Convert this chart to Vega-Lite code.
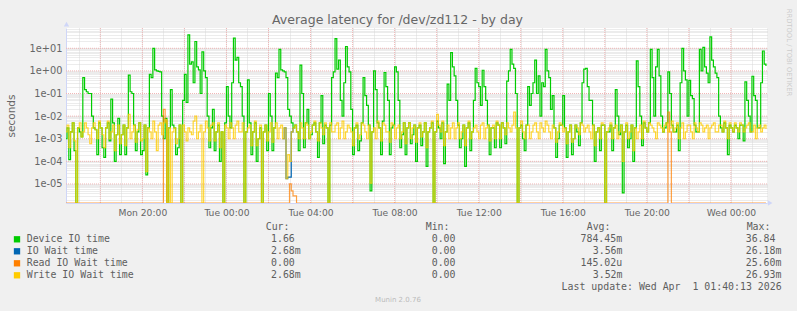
{
  "$schema": "https://vega.github.io/schema/vega-lite/v6.json",
  "width": 701,
  "height": 175,
  "autosize": "none",
  "padding": {"left": 66, "top": 28, "right": 30, "bottom": 108},
  "background": "#f0f0f0",
  "config": {"font": "DejaVu Sans", "view": {"stroke": null, "fill": "#ffffff"}},
  "datasets": {
    "series": [
{"t":"2026-03-30T16:20","w":0.002,"d":0.001,"r":1e-9},{"t":"2026-03-30T16:25","w":0.004,"d":0.003},
{"t":"2026-03-30T16:30","w":0.0004,"d":0.00012},{"t":"2026-03-30T16:35","w":0.002,"d":0.002},
{"t":"2026-03-30T16:40","w":0.005,"d":0.005},{"t":"2026-03-30T16:45","w":0.0008,"d":0.0003},
{"t":"2026-03-30T16:50","w":1e-9,"d":1e-9},{"t":"2026-03-30T16:55","w":0.003,"d":0.003},
{"t":"2026-03-30T17:00","w":0.005,"d":0.002},{"t":"2026-03-30T17:05","w":0.0012,"d":0.0012},
{"t":"2026-03-30T17:10","w":0.002,"d":0.5},{"t":"2026-03-30T17:15","w":0.005,"d":0.15},
{"t":"2026-03-30T17:20","w":0.003,"d":0.12},{"t":"2026-03-30T17:25","w":0.0015,"d":0.1},
{"t":"2026-03-30T17:30","w":0.0006,"d":0.1},{"t":"2026-03-30T17:35","w":0.003,"d":0.01},
{"t":"2026-03-30T17:40","w":0.005,"d":0.003},{"t":"2026-03-30T17:45","w":0.0025,"d":0.0025},
{"t":"2026-03-30T17:50","w":0.001,"d":0.0002},{"t":"2026-03-30T17:55","w":0.006,"d":0.005},
{"t":"2026-03-30T18:00","w":0.003,"d":0.003},{"t":"2026-03-30T18:05","w":0.0015,"d":0.0004},
{"t":"2026-03-30T18:10","w":0.0004,"d":0.00015},{"t":"2026-03-30T18:15","w":0.003,"d":0.003},
{"t":"2026-03-30T18:20","w":0.006,"d":0.005},{"t":"2026-03-30T18:25","w":0.001,"d":0.0008},
{"t":"2026-03-30T18:30","w":0.002,"d":0.056},{"t":"2026-03-30T18:35","w":0.004,"d":0.005},
{"t":"2026-03-30T18:40","w":0.0003,"d":0.0001},{"t":"2026-03-30T18:45","w":0.0015,"d":0.0015},
{"t":"2026-03-30T18:50","w":0.004,"d":0.008},{"t":"2026-03-30T18:55","w":0.0006,"d":0.0002},
{"t":"2026-03-30T19:00","w":0.0015,"d":0.0015},{"t":"2026-03-30T19:05","w":0.004,"d":0.004},
{"t":"2026-03-30T19:10","w":0.0005,"d":0.0002},{"t":"2026-03-30T19:15","w":0.003,"d":0.003},
{"t":"2026-03-30T19:20","w":0.012,"d":0.65},{"t":"2026-03-30T19:25","w":0.001,"d":0.12},
{"t":"2026-03-30T19:30","w":0.002,"d":0.1},{"t":"2026-03-30T19:35","w":0.004,"d":0.004},
{"t":"2026-03-30T19:40","w":0.0007,"d":0.0003},{"t":"2026-03-30T19:45","w":0.0025,"d":0.002},
{"t":"2026-03-30T19:50","w":0.005,"d":0.005},{"t":"2026-03-30T19:55","w":0.0008,"d":0.0002},
{"t":"2026-03-30T20:00","w":0.001,"d":0.0003},{"t":"2026-03-30T20:05","w":0.004,"d":0.004},
{"t":"2026-03-30T20:10","w":0.000035,"d":0.000025},{"t":"2026-03-30T20:15","w":0.003,"d":0.003},
{"t":"2026-03-30T20:20","w":0.002,"d":0.7},{"t":"2026-03-30T20:25","w":0.001,"d":0.5},
{"t":"2026-03-30T20:30","w":0.006,"d":10},{"t":"2026-03-30T20:35","w":0.002,"d":1.1},
{"t":"2026-03-30T20:40","w":0.0003,"d":1},{"t":"2026-03-30T20:45","w":0.004,"d":0.95},
{"t":"2026-03-30T20:50","w":0.005,"d":0.9,"r":1e-9},{"t":"2026-03-30T20:55","w":0.0015,"d":0.01},
{"t":"2026-03-30T21:00","w":0.005,"d":0.001,"r":0.02},{"t":"2026-03-30T21:05","w":0.007,"d":0.008,"r":0.006},
{"t":"2026-03-30T21:10","w":1e-9,"d":1e-9,"r":1e-9},{"t":"2026-03-30T21:15","w":0.003,"d":0.003},
{"t":"2026-03-30T21:20","w":1e-9,"d":0.15},{"t":"2026-03-30T21:25","w":0.002,"d":0.004},
{"t":"2026-03-30T21:30","w":0.003,"d":0.003},{"t":"2026-03-30T21:35","w":0.0006,"d":0.0002},
{"t":"2026-03-30T21:40","w":0.001,"d":0.0004},{"t":"2026-03-30T21:45","w":0.004,"d":0.004},
{"t":"2026-03-30T21:50","w":1e-9,"d":1e-9},{"t":"2026-03-30T21:55","w":0.004,"d":0.05},
{"t":"2026-03-30T22:00","w":0.002,"d":0.7},{"t":"2026-03-30T22:05","w":0.0008,"d":0.04},
{"t":"2026-03-30T22:10","w":0.003,"d":39},{"t":"2026-03-30T22:15","w":0.002,"d":2},
{"t":"2026-03-30T22:20","w":0.0015,"d":2.5},{"t":"2026-03-30T22:25","w":0.006,"d":0.3},
{"t":"2026-03-30T22:30","w":0.01,"d":20},{"t":"2026-03-30T22:35","w":0.001,"d":1.5},
{"t":"2026-03-30T22:40","w":0.002,"d":1.1},{"t":"2026-03-30T22:45","w":0.004,"d":0.1},
{"t":"2026-03-30T22:50","w":1e-9,"d":7},{"t":"2026-03-30T22:55","w":0.002,"d":1},
{"t":"2026-03-30T23:00","w":0.006,"d":0.5},{"t":"2026-03-30T23:05","w":0.003,"d":0.01},
{"t":"2026-03-30T23:10","w":0.0008,"d":0.0004},{"t":"2026-03-30T23:15","w":0.004,"d":0.003},
{"t":"2026-03-30T23:20","w":0.005,"d":0.02},{"t":"2026-03-30T23:25","w":0.0008,"d":0.0003},
{"t":"2026-03-30T23:30","w":0.002,"d":0.002},{"t":"2026-03-30T23:35","w":0.005,"d":0.004},
{"t":"2026-03-30T23:40","w":0.0004,"d":0.0001},{"t":"2026-03-30T23:45","w":0.002,"d":0.002},
{"t":"2026-03-30T23:50","w":1e-9,"d":1e-9},{"t":"2026-03-30T23:55","w":0.004,"d":0.005},
{"t":"2026-03-31T00:00","w":0.003,"d":0.2},{"t":"2026-03-31T00:05","w":0.001,"d":0.01},
{"t":"2026-03-31T00:10","w":0.005,"d":0.003},{"t":"2026-03-31T00:15","w":0.003,"d":0.3},
{"t":"2026-03-31T00:20","w":0.001,"d":28},{"t":"2026-03-31T00:25","w":0.004,"d":3},
{"t":"2026-03-31T00:30","w":0.006,"d":4},{"t":"2026-03-31T00:35","w":0.002,"d":0.3},
{"t":"2026-03-31T00:40","w":0.002,"d":0.2},{"t":"2026-03-31T00:45","w":0.005,"d":0.01},
{"t":"2026-03-31T00:50","w":1e-9,"d":1e-9},{"t":"2026-03-31T00:55","w":0.002,"d":0.002},
{"t":"2026-03-31T01:00","w":0.003,"d":0.4},{"t":"2026-03-31T01:05","w":0.004,"d":0.005},
{"t":"2026-03-31T01:10","w":0.0005,"d":0.0002},{"t":"2026-03-31T01:15","w":0.002,"d":0.002},
{"t":"2026-03-31T01:20","w":0.006,"d":0.005},{"t":"2026-03-31T01:25","w":0.0005,"d":0.0001},
{"t":"2026-03-31T01:30","w":0.001,"d":0.001},{"t":"2026-03-31T01:35","w":0.004,"d":0.003},
{"t":"2026-03-31T01:40","w":1e-9,"d":1e-9},{"t":"2026-03-31T01:45","w":0.002,"d":0.002},
{"t":"2026-03-31T01:50","w":0.004,"d":0.004},{"t":"2026-03-31T01:55","w":0.0008,"d":0.0003},
{"t":"2026-03-31T02:00","w":0.002,"d":0.1},{"t":"2026-03-31T02:05","w":0.005,"d":0.01},
{"t":"2026-03-31T02:10","w":0.0007,"d":0.0003},{"t":"2026-03-31T02:15","w":0.003,"d":0.003},
{"t":"2026-03-31T02:20","w":0.005,"d":0.8},{"t":"2026-03-31T02:25","w":0.001,"d":0.5},
{"t":"2026-03-31T02:30","w":0.003,"d":9},{"t":"2026-03-31T02:35","w":0.004,"d":1.1},
{"t":"2026-03-31T02:40","w":0.001,"d":1,"io":0.001},{"t":"2026-03-31T02:45","w":0.003,"d":0.9,"io":0.003},
{"t":"2026-03-31T02:50","w":0.000017,"d":0.5,"io":0.000017,"r":1e-9},{"t":"2026-03-31T02:55","w":0.0002,"d":0.02,"io":0.00002},
{"t":"2026-03-31T03:00","w":0.0001,"d":0.01,"io":0.00002,"r":0.00001},{"t":"2026-03-31T03:05","w":0.002,"d":0.005,"io":0.002,"r":0.000005},
{"t":"2026-03-31T03:10","w":0.003,"d":0.003,"io":0.003,"r":0.000003},{"t":"2026-03-31T03:15","w":0.004,"d":0.004},
{"t":"2026-03-31T03:20","w":0.002,"d":0.002,"r":1e-9},{"t":"2026-03-31T03:25","w":0.001,"d":0.0003},
{"t":"2026-03-31T03:30","w":0.005,"d":1.8},{"t":"2026-03-31T03:35","w":0.003,"d":0.1},
{"t":"2026-03-31T03:40","w":0.001,"d":0.0004},{"t":"2026-03-31T03:45","w":0.005,"d":0.005},
{"t":"2026-03-31T03:50","w":0.004,"d":0.02},{"t":"2026-03-31T03:55","w":0.001,"d":0.001},
{"t":"2026-03-31T04:00","w":0.002,"d":0.0015},{"t":"2026-03-31T04:05","w":0.004,"d":0.004},
{"t":"2026-03-31T04:10","w":0.006,"d":0.005},{"t":"2026-03-31T04:15","w":0.002,"d":0.002},
{"t":"2026-03-31T04:20","w":0.0008,"d":0.00015},{"t":"2026-03-31T04:25","w":0.005,"d":0.005},
{"t":"2026-03-31T04:30","w":0.003,"d":0.08},{"t":"2026-03-31T04:35","w":0.0015,"d":0.0006},
{"t":"2026-03-31T04:40","w":0.005,"d":0.004},{"t":"2026-03-31T04:45","w":0.003,"d":0.003},
{"t":"2026-03-31T04:50","w":1e-9,"d":1e-9},{"t":"2026-03-31T04:55","w":0.005,"d":0.004},
{"t":"2026-03-31T05:00","w":0.002,"d":0.5},{"t":"2026-03-31T05:05","w":0.002,"d":0.9},
{"t":"2026-03-31T05:10","w":0.004,"d":27},{"t":"2026-03-31T05:15","w":0.005,"d":1.2},
{"t":"2026-03-31T05:20","w":0.001,"d":3},{"t":"2026-03-31T05:25","w":0.003,"d":0.05},
{"t":"2026-03-31T05:30","w":0.006,"d":0.01},{"t":"2026-03-31T05:35","w":0.001,"d":0.3},
{"t":"2026-03-31T05:40","w":0.002,"d":12},{"t":"2026-03-31T05:45","w":0.004,"d":1.5},
{"t":"2026-03-31T05:50","w":0.003,"d":0.9},{"t":"2026-03-31T05:55","w":0.002,"d":0.02},
{"t":"2026-03-31T06:00","w":0.0005,"d":0.0002},{"t":"2026-03-31T06:05","w":0.003,"d":0.003},
{"t":"2026-03-31T06:10","w":0.005,"d":0.004},{"t":"2026-03-31T06:15","w":0.001,"d":0.0003},
{"t":"2026-03-31T06:20","w":0.0015,"d":0.0008},{"t":"2026-03-31T06:25","w":0.005,"d":0.005},
{"t":"2026-03-31T06:30","w":0.004,"d":0.5},{"t":"2026-03-31T06:35","w":0.002,"d":0.08},
{"t":"2026-03-31T06:40","w":0.001,"d":0.03},{"t":"2026-03-31T06:45","w":0.004,"d":0.004},
{"t":"2026-03-31T06:50","w":0.000011,"d":0.000005},{"t":"2026-03-31T06:55","w":0.002,"d":0.002},
{"t":"2026-03-31T07:00","w":0.003,"d":1},{"t":"2026-03-31T07:05","w":0.001,"d":0.15},
{"t":"2026-03-31T07:10","w":0.006,"d":0.005},{"t":"2026-03-31T07:15","w":0.003,"d":0.003},
{"t":"2026-03-31T07:20","w":0.0008,"d":0.0002},{"t":"2026-03-31T07:25","w":0.005,"d":0.006},
{"t":"2026-03-31T07:30","w":0.004,"d":0.85},{"t":"2026-03-31T07:35","w":0.002,"d":0.2},
{"t":"2026-03-31T07:40","w":0.002,"d":0.05},{"t":"2026-03-31T07:45","w":0.0007,"d":0.0002},
{"t":"2026-03-31T07:50","w":0.005,"d":0.003},{"t":"2026-03-31T07:55","w":0.004,"d":0.004},
{"t":"2026-03-31T08:00","w":0.001,"d":1.5},{"t":"2026-03-31T08:05","w":0.003,"d":0.9},
{"t":"2026-03-31T08:10","w":0.004,"d":0.05},{"t":"2026-03-31T08:15","w":0.001,"d":0.0004},
{"t":"2026-03-31T08:20","w":0.002,"d":0.0015},{"t":"2026-03-31T08:25","w":0.005,"d":0.005},
{"t":"2026-03-31T08:30","w":0.0006,"d":0.0002},{"t":"2026-03-31T08:35","w":0.003,"d":0.003},
{"t":"2026-03-31T08:40","w":0.005,"d":0.005},{"t":"2026-03-31T08:45","w":0.001,"d":0.0006},
{"t":"2026-03-31T08:50","w":0.003,"d":0.0015},{"t":"2026-03-31T08:55","w":0.004,"d":0.004},
{"t":"2026-03-31T09:00","w":0.0007,"d":0.0001},{"t":"2026-03-31T09:05","w":0.003,"d":0.003},
{"t":"2026-03-31T09:10","w":0.005,"d":0.004},{"t":"2026-03-31T09:15","w":0.0012,"d":0.0005},
{"t":"2026-03-31T09:20","w":0.002,"d":0.002},{"t":"2026-03-31T09:25","w":0.005,"d":0.005},
{"t":"2026-03-31T09:30","w":0.0004,"d":0.00006},{"t":"2026-03-31T09:35","w":0.002,"d":0.002},
{"t":"2026-03-31T09:40","w":0.003,"d":0.003},{"t":"2026-03-31T09:45","w":0.006,"d":0.005},
{"t":"2026-03-31T09:50","w":1e-9,"d":1e-9},{"t":"2026-03-31T09:55","w":0.002,"d":0.002},
{"t":"2026-03-31T10:00","w":0.012,"d":0.006},{"t":"2026-03-31T10:05","w":0.004,"d":0.003},
{"t":"2026-03-31T10:10","w":0.002,"d":0.001},{"t":"2026-03-31T10:15","w":0.006,"d":0.005},
{"t":"2026-03-31T10:20","w":0.0005,"d":0.00008},{"t":"2026-03-31T10:25","w":0.002,"d":0.002},
{"t":"2026-03-31T10:30","w":0.004,"d":0.26},{"t":"2026-03-31T10:35","w":0.001,"d":0.05},
{"t":"2026-03-31T10:40","w":0.003,"d":6.4},{"t":"2026-03-31T10:45","w":0.005,"d":1.5},
{"t":"2026-03-31T10:50","w":0.001,"d":0.6},{"t":"2026-03-31T10:55","w":0.003,"d":0.05},
{"t":"2026-03-31T11:00","w":0.005,"d":0.004},{"t":"2026-03-31T11:05","w":0.001,"d":0.0004},
{"t":"2026-03-31T11:10","w":0.002,"d":0.001},{"t":"2026-03-31T11:15","w":0.004,"d":0.004},
{"t":"2026-03-31T11:20","w":0.0005,"d":0.00006},{"t":"2026-03-31T11:25","w":0.003,"d":0.003},
{"t":"2026-03-31T11:30","w":0.006,"d":0.005},{"t":"2026-03-31T11:35","w":0.001,"d":0.0003},
{"t":"2026-03-31T11:40","w":0.002,"d":0.002},{"t":"2026-03-31T11:45","w":0.003,"d":0.05},
{"t":"2026-03-31T11:50","w":0.004,"d":1.3},{"t":"2026-03-31T11:55","w":0.002,"d":0.3},
{"t":"2026-03-31T12:00","w":0.001,"d":0.2},{"t":"2026-03-31T12:05","w":0.004,"d":0.03},
{"t":"2026-03-31T12:10","w":0.005,"d":1.07},{"t":"2026-03-31T12:15","w":0.001,"d":0.2},
{"t":"2026-03-31T12:20","w":0.003,"d":0.05},{"t":"2026-03-31T12:25","w":0.004,"d":0.004},
{"t":"2026-03-31T12:30","w":0.0008,"d":0.0002},{"t":"2026-03-31T12:35","w":0.003,"d":0.003},
{"t":"2026-03-31T12:40","w":0.004,"d":0.003},{"t":"2026-03-31T12:45","w":0.001,"d":0.0004},
{"t":"2026-03-31T12:50","w":0.006,"d":0.005},{"t":"2026-03-31T12:55","w":0.004,"d":0.004},
{"t":"2026-03-31T13:00","w":0.001,"d":0.0004},{"t":"2026-03-31T13:05","w":0.005,"d":0.005},
{"t":"2026-03-31T13:10","w":0.003,"d":0.003},{"t":"2026-03-31T13:15","w":0.0015,"d":0.0006},
{"t":"2026-03-31T13:20","w":0.005,"d":0.35},{"t":"2026-03-31T13:25","w":0.003,"d":1},
{"t":"2026-03-31T13:30","w":0.002,"d":9},{"t":"2026-03-31T13:35","w":0.004,"d":2},
{"t":"2026-03-31T13:40","w":0.015,"d":1.3},{"t":"2026-03-31T13:45","w":0.003,"d":0.1},
{"t":"2026-03-31T13:50","w":1e-9,"d":1e-9},{"t":"2026-03-31T13:55","w":0.003,"d":0.003},
{"t":"2026-03-31T14:00","w":0.006,"d":0.004},{"t":"2026-03-31T14:05","w":0.002,"d":0.001},
{"t":"2026-03-31T14:10","w":0.001,"d":0.0003},{"t":"2026-03-31T14:15","w":0.004,"d":0.004},
{"t":"2026-03-31T14:20","w":0.004,"d":0.2},{"t":"2026-03-31T14:25","w":0.001,"d":0.03},
{"t":"2026-03-31T14:30","w":0.002,"d":0.1},{"t":"2026-03-31T14:35","w":0.004,"d":0.3},
{"t":"2026-03-31T14:40","w":0.005,"d":3},{"t":"2026-03-31T14:45","w":0.002,"d":0.1},
{"t":"2026-03-31T14:50","w":0.001,"d":0.6},{"t":"2026-03-31T14:55","w":0.005,"d":0.01},
{"t":"2026-03-31T15:00","w":0.003,"d":0.3},{"t":"2026-03-31T15:05","w":0.002,"d":0.2},
{"t":"2026-03-31T15:10","w":0.006,"d":9},{"t":"2026-03-31T15:15","w":0.004,"d":1},
{"t":"2026-03-31T15:20","w":0.002,"d":0.5},{"t":"2026-03-31T15:25","w":0.001,"d":0.02},
{"t":"2026-03-31T15:30","w":0.004,"d":0.08},{"t":"2026-03-31T15:35","w":0.003,"d":0.003},
{"t":"2026-03-31T15:40","w":0.0007,"d":0.00015},{"t":"2026-03-31T15:45","w":0.002,"d":0.001},
{"t":"2026-03-31T15:50","w":0.005,"d":0.004},{"t":"2026-03-31T15:55","w":0.004,"d":0.004},
{"t":"2026-03-31T16:00","w":0.002,"d":0.08},{"t":"2026-03-31T16:05","w":0.003,"d":0.003},
{"t":"2026-03-31T16:10","w":0.0006,"d":0.00015},{"t":"2026-03-31T16:15","w":0.002,"d":0.002},
{"t":"2026-03-31T16:20","w":0.004,"d":0.004},{"t":"2026-03-31T16:25","w":0.0007,"d":0.0002},
{"t":"2026-03-31T16:30","w":0.001,"d":0.001},{"t":"2026-03-31T16:35","w":0.004,"d":0.004},
{"t":"2026-03-31T16:40","w":0.003,"d":0.002},{"t":"2026-03-31T16:45","w":0.0015,"d":0.0005},
{"t":"2026-03-31T16:50","w":0.005,"d":0.005},{"t":"2026-03-31T16:55","w":0.004,"d":0.3},
{"t":"2026-03-31T17:00","w":0.002,"d":1.2},{"t":"2026-03-31T17:05","w":0.003,"d":1.3},
{"t":"2026-03-31T17:10","w":0.004,"d":0.2},{"t":"2026-03-31T17:15","w":0.002,"d":0.05},
{"t":"2026-03-31T17:20","w":0.001,"d":0.05},{"t":"2026-03-31T17:25","w":0.004,"d":0.004},
{"t":"2026-03-31T17:30","w":0.0005,"d":0.0001},{"t":"2026-03-31T17:35","w":0.002,"d":0.002},
{"t":"2026-03-31T17:40","w":0.003,"d":0.003},{"t":"2026-03-31T17:45","w":0.001,"d":0.0003},
{"t":"2026-03-31T17:50","w":0.005,"d":0.004},{"t":"2026-03-31T17:55","w":0.004,"d":0.004},
{"t":"2026-03-31T18:00","w":1e-9,"d":1e-9},{"t":"2026-03-31T18:05","w":0.002,"d":0.002},
{"t":"2026-03-31T18:10","w":0.003,"d":0.002},{"t":"2026-03-31T18:15","w":0.005,"d":0.004},
{"t":"2026-03-31T18:20","w":0.001,"d":0.0003},{"t":"2026-03-31T18:25","w":0.003,"d":0.003},
{"t":"2026-03-31T18:30","w":0.004,"d":0.15},{"t":"2026-03-31T18:35","w":0.001,"d":0.01},
{"t":"2026-03-31T18:40","w":0.002,"d":0.0015},{"t":"2026-03-31T18:45","w":0.004,"d":0.004},
{"t":"2026-03-31T18:50","w":0.0001,"d":0.000004},{"t":"2026-03-31T18:55","w":0.002,"d":0.002},
{"t":"2026-03-31T19:00","w":0.005,"d":0.004},{"t":"2026-03-31T19:05","w":0.001,"d":0.0004},
{"t":"2026-03-31T19:10","w":0.002,"d":0.001},{"t":"2026-03-31T19:15","w":0.004,"d":0.004},
{"t":"2026-03-31T19:20","w":0.0003,"d":0.0001},{"t":"2026-03-31T19:25","w":0.003,"d":0.003},
{"t":"2026-03-31T19:30","w":0.001,"d":2.8},{"t":"2026-03-31T19:35","w":0.002,"d":0.2},
{"t":"2026-03-31T19:40","w":0.004,"d":0.01},{"t":"2026-03-31T19:45","w":0.001,"d":0.0005},
{"t":"2026-03-31T19:50","w":0.006,"d":0.005},{"t":"2026-03-31T19:55","w":0.003,"d":0.003},
{"t":"2026-03-31T20:00","w":0.002,"d":0.002},{"t":"2026-03-31T20:05","w":0.005,"d":0.005},
{"t":"2026-03-31T20:10","w":0.004,"d":9},{"t":"2026-03-31T20:15","w":0.003,"d":0.5},
{"t":"2026-03-31T20:20","w":0.002,"d":0.01},{"t":"2026-03-31T20:25","w":0.001,"d":1.5},
{"t":"2026-03-31T20:30","w":0.005,"d":9},{"t":"2026-03-31T20:35","w":0.004,"d":0.6},
{"t":"2026-03-31T20:40","w":0.003,"d":0.01},{"t":"2026-03-31T20:45","w":0.002,"d":0.002},
{"t":"2026-03-31T20:50","w":0.004,"d":0.003,"r":1e-9},{"t":"2026-03-31T20:55","w":0.005,"d":0.005},
{"t":"2026-03-31T21:00","w":0.002,"d":0.9,"r":0.015},{"t":"2026-03-31T21:05","w":0.003,"d":0.1,"r":0.002},
{"t":"2026-03-31T21:10","w":0.006,"d":0.004,"r":1e-9},{"t":"2026-03-31T21:15","w":0.002,"d":0.002},
{"t":"2026-03-31T21:20","w":0.003,"d":0.002},{"t":"2026-03-31T21:25","w":0.005,"d":0.004},
{"t":"2026-03-31T21:30","w":0.001,"d":0.0003},{"t":"2026-03-31T21:35","w":0.003,"d":0.3},
{"t":"2026-03-31T21:40","w":0.005,"d":10},{"t":"2026-03-31T21:45","w":0.001,"d":1},
{"t":"2026-03-31T21:50","w":0.002,"d":0.4},{"t":"2026-03-31T21:55","w":0.004,"d":0.01},
{"t":"2026-03-31T22:00","w":0.004,"d":0.38},{"t":"2026-03-31T22:05","w":0.002,"d":0.08},
{"t":"2026-03-31T22:10","w":0.001,"d":0.06},{"t":"2026-03-31T22:15","w":0.005,"d":0.004},
{"t":"2026-03-31T22:20","w":0.003,"d":0.002},{"t":"2026-03-31T22:25","w":0.002,"d":0.002},
{"t":"2026-03-31T22:30","w":0.005,"d":9},{"t":"2026-03-31T22:35","w":0.004,"d":1},
{"t":"2026-03-31T22:40","w":0.002,"d":11},{"t":"2026-03-31T22:45","w":0.003,"d":1.5},
{"t":"2026-03-31T22:50","w":0.004,"d":0.8},{"t":"2026-03-31T22:55","w":0.001,"d":0.3},
{"t":"2026-03-31T23:00","w":0.003,"d":32},{"t":"2026-03-31T23:05","w":0.004,"d":3},
{"t":"2026-03-31T23:10","w":0.005,"d":1.5},{"t":"2026-03-31T23:15","w":0.002,"d":0.8},
{"t":"2026-03-31T23:20","w":0.002,"d":0.5},{"t":"2026-03-31T23:25","w":0.004,"d":0.01},
{"t":"2026-03-31T23:30","w":0.004,"d":0.003},{"t":"2026-03-31T23:35","w":0.002,"d":0.002},
{"t":"2026-03-31T23:40","w":0.006,"d":0.005},{"t":"2026-03-31T23:45","w":0.003,"d":0.003},
{"t":"2026-03-31T23:50","w":0.001,"d":0.0002},{"t":"2026-03-31T23:55","w":0.005,"d":0.004},
{"t":"2026-04-01T00:00","w":0.003,"d":0.003},{"t":"2026-04-01T00:05","w":0.002,"d":0.002},
{"t":"2026-04-01T00:10","w":0.005,"d":0.004},{"t":"2026-04-01T00:15","w":0.003,"d":0.003},
{"t":"2026-04-01T00:20","w":0.002,"d":0.001},{"t":"2026-04-01T00:25","w":0.005,"d":0.004},
{"t":"2026-04-01T00:30","w":0.004,"d":0.004},{"t":"2026-04-01T00:35","w":0.002,"d":0.0008},
{"t":"2026-04-01T00:40","w":0.003,"d":0.33},{"t":"2026-04-01T00:45","w":0.004,"d":0.05},
{"t":"2026-04-01T00:50","w":0.005,"d":0.01},{"t":"2026-04-01T00:55","w":0.002,"d":0.002},
{"t":"2026-04-01T01:00","w":0.002,"d":0.58},{"t":"2026-04-01T01:05","w":0.004,"d":0.08},
{"t":"2026-04-01T01:10","w":0.001,"d":0.05},{"t":"2026-04-01T01:15","w":0.003,"d":0.003},
{"t":"2026-04-01T01:20","w":0.004,"d":0.003},{"t":"2026-04-01T01:25","w":0.002,"d":0.3},
{"t":"2026-04-01T01:30","w":0.003,"d":7.6},{"t":"2026-04-01T01:35","w":0.004,"d":2},
{"t":"2026-04-01T01:40","w":0.00268,"d":1.66,"r":1e-9}
    ]
  },
  "layer": [
    {
      "data": {"values": [
        {"g":"2026-03-30T18:00"},{"g":"2026-03-30T20:00"},{"g":"2026-03-30T22:00"},
        {"g":"2026-03-31T00:00"},{"g":"2026-03-31T02:00"},{"g":"2026-03-31T04:00"},{"g":"2026-03-31T06:00"},
        {"g":"2026-03-31T08:00"},{"g":"2026-03-31T10:00"},{"g":"2026-03-31T12:00"},{"g":"2026-03-31T14:00"},
        {"g":"2026-03-31T16:00"},{"g":"2026-03-31T18:00"},{"g":"2026-03-31T20:00"},{"g":"2026-03-31T22:00"},
        {"g":"2026-04-01T00:00"}
      ]},
      "mark": {"type": "rule", "color": "#f0b6b6", "strokeDash": [1, 1], "strokeWidth": 1},
      "encoding": {
        "x": {"field": "g", "type": "temporal",
              "scale": {"domain": [{"year":2026,"month":3,"date":30,"hours":16,"minutes":22},{"year":2026,"month":4,"date":1,"hours":1,"minutes":43}]},
              "axis": {"orient": "bottom",
                       "values": [
                         {"year":2026,"month":3,"date":30,"hours":17},{"year":2026,"month":3,"date":30,"hours":18},{"year":2026,"month":3,"date":30,"hours":19},
                         {"year":2026,"month":3,"date":30,"hours":20},{"year":2026,"month":3,"date":30,"hours":21},{"year":2026,"month":3,"date":30,"hours":22},
                         {"year":2026,"month":3,"date":30,"hours":23},{"year":2026,"month":3,"date":31,"hours":0},{"year":2026,"month":3,"date":31,"hours":1},
                         {"year":2026,"month":3,"date":31,"hours":2},{"year":2026,"month":3,"date":31,"hours":3},{"year":2026,"month":3,"date":31,"hours":4},
                         {"year":2026,"month":3,"date":31,"hours":5},{"year":2026,"month":3,"date":31,"hours":6},{"year":2026,"month":3,"date":31,"hours":7},
                         {"year":2026,"month":3,"date":31,"hours":8},{"year":2026,"month":3,"date":31,"hours":9},{"year":2026,"month":3,"date":31,"hours":10},
                         {"year":2026,"month":3,"date":31,"hours":11},{"year":2026,"month":3,"date":31,"hours":12},{"year":2026,"month":3,"date":31,"hours":13},
                         {"year":2026,"month":3,"date":31,"hours":14},{"year":2026,"month":3,"date":31,"hours":15},{"year":2026,"month":3,"date":31,"hours":16},
                         {"year":2026,"month":3,"date":31,"hours":17},{"year":2026,"month":3,"date":31,"hours":18},{"year":2026,"month":3,"date":31,"hours":19},
                         {"year":2026,"month":3,"date":31,"hours":20},{"year":2026,"month":3,"date":31,"hours":21},{"year":2026,"month":3,"date":31,"hours":22},
                         {"year":2026,"month":3,"date":31,"hours":23},{"year":2026,"month":4,"date":1,"hours":0},{"year":2026,"month":4,"date":1,"hours":1}
                       ],
                       "grid": true, "gridColor": "#d9d9d9", "gridDash": [1, 1],
                       "ticks": false, "domain": true, "domainColor": "#cfd6f8",
                       "labelExpr": "hours(datum.value) % 4 == 0 ? timeFormat(datum.value, '%a %H:%M') : ''",
                       "labelOverlap": false, "labelFlush": false, "labelPadding": 5,
                       "labelFont": "DejaVu Sans", "labelFontSize": 9.2, "labelColor": "#666666", "title": null}}
      }
    },
    {
      "data": {"values": [{"v":0.00001},{"v":0.0001},{"v":0.001},{"v":0.01},{"v":0.1},{"v":1},{"v":10}]},
      "mark": {"type": "rule", "color": "#f0b6b6", "strokeDash": [1, 1], "strokeWidth": 1},
      "encoding": {
        "y": {"field": "v", "type": "quantitative",
              "scale": {"type": "log", "domain": [0.00000144, 79], "nice": false, "clamp": true},
              "axis": {"orient": "left", "values": [0.000002,0.000003,0.000004,0.000005,0.000006,0.000007,0.000008,0.000009,
                                  0.00001,0.00002,0.00003,0.00004,0.00005,0.00006,0.00007,0.00008,0.00009,
                                  0.0001,0.0002,0.0003,0.0004,0.0005,0.0006,0.0007,0.0008,0.0009,
                                  0.001,0.002,0.003,0.004,0.005,0.006,0.007,0.008,0.009,
                                  0.01,0.02,0.03,0.04,0.05,0.06,0.07,0.08,0.09,
                                  0.1,0.2,0.3,0.4,0.5,0.6,0.7,0.8,0.9,
                                  1,2,3,4,5,6,7,8,9,10,20,30,40,50,60,70],
                       "grid": true, "gridColor": "#d9d9d9", "gridDash": [1, 1],
                       "ticks": false, "domain": true, "domainColor": "#cfd6f8",
                       "labelExpr": "datum.value == 10 ? '1e+01' : datum.value == 1 ? '1e+00' : datum.value == 0.1 ? '1e-01' : datum.value == 0.01 ? '1e-02' : datum.value == 0.001 ? '1e-03' : datum.value == 0.0001 ? '1e-04' : datum.value == 0.00001 ? '1e-05' : ''",
                       "labelOverlap": false, "labelPadding": 4,
                       "labelFont": "DejaVu Sans", "labelFontSize": 9.8, "labelColor": "#666666",
                       "title": "seconds", "titleFont": "DejaVu Sans", "titleFontSize": 10.5, "titleFontWeight": "normal",
                       "titleColor": "#666666", "titleX": -55, "titleY": 87.5, "titleAngle": -90,
                       "titleBaseline": "middle", "titleAlign": "center"}}
      }
    },
    {
      "mark": {"type": "rule", "color": "#ff8000", "strokeDash": [6, 3], "strokeWidth": 1},
      "encoding": {
        "y": {"datum": 3, "type": "quantitative", "axis": null,
              "scale": {"type": "log", "domain": [0.00000144, 79], "nice": false, "clamp": true}}
      }
    },
    {
      "data": {"name": "series"},
      "mark": {"type": "line", "color": "#00cc00", "strokeWidth": 1.2, "interpolate": "step-after", "clip": true},
      "encoding": {
        "x": {"field": "t", "type": "temporal", "axis": null,
              "scale": {"domain": [{"year":2026,"month":3,"date":30,"hours":16,"minutes":22},{"year":2026,"month":4,"date":1,"hours":1,"minutes":43}]}},
        "y": {"field": "d", "type": "quantitative", "axis": null,
              "scale": {"type": "log", "domain": [0.00000144, 79], "nice": false, "clamp": true}}
      }
    },
    {
      "data": {"name": "series"},
      "transform": [{"filter": {"field": "io", "valid": true}}],
      "mark": {"type": "line", "color": "#0066b3", "strokeWidth": 1.2, "interpolate": "step-after", "clip": true},
      "encoding": {
        "x": {"field": "t", "type": "temporal", "axis": null,
              "scale": {"domain": [{"year":2026,"month":3,"date":30,"hours":16,"minutes":22},{"year":2026,"month":4,"date":1,"hours":1,"minutes":43}]}},
        "y": {"field": "io", "type": "quantitative", "axis": null,
              "scale": {"type": "log", "domain": [0.00000144, 79], "nice": false, "clamp": true}}
      }
    },
    {
      "data": {"name": "series"},
      "transform": [{"filter": {"field": "r", "valid": true}}],
      "mark": {"type": "line", "color": "#ff8000", "strokeWidth": 1.2, "opacity": 0.75, "interpolate": "step-after", "clip": true},
      "encoding": {
        "x": {"field": "t", "type": "temporal", "axis": null,
              "scale": {"domain": [{"year":2026,"month":3,"date":30,"hours":16,"minutes":22},{"year":2026,"month":4,"date":1,"hours":1,"minutes":43}]}},
        "y": {"field": "r", "type": "quantitative", "axis": null,
              "scale": {"type": "log", "domain": [0.00000144, 79], "nice": false, "clamp": true}}
      }
    },
    {
      "data": {"name": "series"},
      "mark": {"type": "line", "color": "#ffcc00", "strokeWidth": 1.2, "opacity": 0.8, "interpolate": "step-after", "clip": true},
      "encoding": {
        "x": {"field": "t", "type": "temporal", "axis": null,
              "scale": {"domain": [{"year":2026,"month":3,"date":30,"hours":16,"minutes":22},{"year":2026,"month":4,"date":1,"hours":1,"minutes":43}]}},
        "y": {"field": "w", "type": "quantitative", "axis": null,
              "scale": {"type": "log", "domain": [0.00000144, 79], "nice": false, "clamp": true}}
      }
    },
    {
      "data": {"values": [
        {"c":-1.63,"r":1,"k":"Device IO time"},
        {"c":-1.63,"r":2,"k":"IO Wait time"},
        {"c":-1.63,"r":3,"k":"Read IO Wait time"},
        {"c":-1.63,"r":4,"k":"Write IO Wait time"}
      ]},
      "mark": {"type": "point", "shape": "square", "filled": true, "size": 40, "opacity": 1},
      "encoding": {
        "x": {"field": "c", "type": "quantitative", "axis": null, "scale": {"domain": [6.605, 124.42], "nice": false, "zero": false}},
        "y": {"field": "r", "type": "quantitative", "axis": null, "scale": {"domain": [-16.608, -2.025], "reverse": true, "nice": false, "zero": false}},
        "color": {"field": "k", "type": "nominal", "legend": null,
                  "scale": {"domain": ["Device IO time","IO Wait time","Read IO Wait time","Write IO Wait time"],
                            "range": ["#00cc00","#0066b3","#ff8000","#ffcc00"]}}
      }
    },
    {
      "data": {"values": [
        {"c":40.17,"r":0,"s":"Cur:"},{"c":67.06,"r":0,"s":"Min:"},{"c":94.12,"r":0,"s":"Avg:"},{"c":121.0,"r":0,"s":"Max:"},
        {"c":0,"r":1,"s":"Device IO time"},{"c":41.06,"r":1,"s":"1.66"},{"c":68.07,"r":1,"s":"0.00"},{"c":93.08,"r":1,"s":"784.45m"},{"c":120.84,"r":1,"s":"36.84"},
        {"c":0,"r":2,"s":"IO Wait time"},{"c":41.06,"r":2,"s":"2.68m"},{"c":68.07,"r":2,"s":"0.00"},{"c":95.14,"r":2,"s":"3.56m"},{"c":120.84,"r":2,"s":"26.18m"},
        {"c":0,"r":3,"s":"Read IO Wait time"},{"c":41.06,"r":3,"s":"0.00"},{"c":68.07,"r":3,"s":"0.00"},{"c":93.08,"r":3,"s":"145.02u"},{"c":120.84,"r":3,"s":"25.60m"},
        {"c":0,"r":4,"s":"Write IO Wait time"},{"c":41.06,"r":4,"s":"2.68m"},{"c":68.07,"r":4,"s":"0.00"},{"c":95.14,"r":4,"s":"3.52m"},{"c":120.84,"r":4,"s":"26.93m"},
        {"c":89.9,"r":5,"s":"Last update: Wed Apr\u00a0\u00a01 01:40:13 2026"}
      ]},
      "mark": {"type": "text", "align": "left", "baseline": "middle", "font": "DejaVu Sans Mono", "fontSize": 9.9, "color": "#5e5e5e"},
      "encoding": {
        "x": {"field": "c", "type": "quantitative", "axis": null, "scale": {"domain": [6.605, 124.42], "nice": false, "zero": false}},
        "y": {"field": "r", "type": "quantitative", "axis": null, "scale": {"domain": [-16.608, -2.025], "reverse": true, "nice": false, "zero": false}},
        "text": {"field": "s"}
      }
    },
    {
      "data": {"values": [{"c":62.32,"r":-16.94,"s":"Average latency for /dev/zd112 - by day"}]},
      "mark": {"type": "text", "align": "center", "baseline": "alphabetic", "font": "DejaVu Sans", "fontSize": 12.5, "color": "#666666"},
      "encoding": {
        "x": {"field": "c", "type": "quantitative", "axis": null, "scale": {"domain": [6.605, 124.42], "nice": false, "zero": false}},
        "y": {"field": "r", "type": "quantitative", "axis": null, "scale": {"domain": [-16.608, -2.025], "reverse": true, "nice": false, "zero": false}},
        "text": {"field": "s"}
      }
    },
    {
      "data": {"values": [{"c":62.4,"r":6.06,"s":"Munin 2.0.76"}]},
      "mark": {"type": "text", "align": "center", "baseline": "middle", "font": "DejaVu Sans", "fontSize": 7, "color": "#bbbbbb"},
      "encoding": {
        "x": {"field": "c", "type": "quantitative", "axis": null, "scale": {"domain": [6.605, 124.42], "nice": false, "zero": false}},
        "y": {"field": "r", "type": "quantitative", "axis": null, "scale": {"domain": [-16.608, -2.025], "reverse": true, "nice": false, "zero": false}},
        "text": {"field": "s"}
      }
    },
    {
      "data": {"values": [{"c":128.1,"r":-14.57,"s":"RRDTOOL / TOBI OETIKER"}]},
      "mark": {"type": "text", "align": "center", "baseline": "middle", "angle": 90, "font": "DejaVu Sans", "fontSize": 6.8, "color": "#cccccc"},
      "encoding": {
        "x": {"field": "c", "type": "quantitative", "axis": null, "scale": {"domain": [6.605, 124.42], "nice": false, "zero": false}},
        "y": {"field": "r", "type": "quantitative", "axis": null, "scale": {"domain": [-16.608, -2.025], "reverse": true, "nice": false, "zero": false}},
        "text": {"field": "s"}
      }
    },
    {
      "data": {"values": [{"c":6.69,"r":-16.93,"a":"triangle-up"},{"c":124.95,"r":-2.025,"a":"triangle-right"}]},
      "mark": {"type": "point", "filled": true, "size": 28, "color": "#cfd6f8", "opacity": 1},
      "encoding": {
        "x": {"field": "c", "type": "quantitative", "axis": null, "scale": {"domain": [6.605, 124.42], "nice": false, "zero": false}},
        "y": {"field": "r", "type": "quantitative", "axis": null, "scale": {"domain": [-16.608, -2.025], "reverse": true, "nice": false, "zero": false}},
        "shape": {"field": "a", "type": "nominal", "legend": null, "scale": {"domain": ["triangle-up","triangle-right"], "range": ["triangle-up","triangle-right"]}}
      }
    }
  ],
  "resolve": {"scale": {"x": "independent", "y": "independent"}}
}
